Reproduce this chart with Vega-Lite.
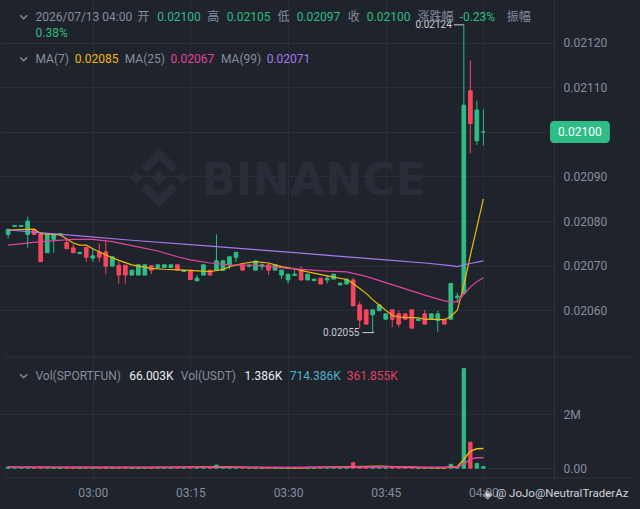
{
  "$schema": "https://vega.github.io/schema/vega-lite/v6.json",
  "background": "#1f232c",
  "padding": 0,
  "autosize": {"type": "pad"},
  "spacing": 0,
  "config": {
    "view": {"stroke": null},
    "font": "Roboto, Noto Sans CJK SC, sans-serif",
    "axis": {"labelFont": "Roboto", "labelFontSize": 12, "labelColor": "#848e9c", "title": null, "labelFlush": false, "labelOverlap": false}
  },
  "datasets": {
    "k": [
      {"t":"2026-07-13T02:47:00Z","o":0.020770,"h":0.020782,"l":0.020761,"c":0.0207815,"v":50000},
      {"t":"2026-07-13T02:48:00Z","o":0.020788,"h":0.020790,"l":0.020788,"c":0.020790,"v":30000},
      {"t":"2026-07-13T02:49:00Z","o":0.020788,"h":0.020790,"l":0.020788,"c":0.020790,"v":30000},
      {"t":"2026-07-13T02:50:00Z","o":0.020770,"h":0.020810,"l":0.020740,"c":0.020800,"v":40000},
      {"t":"2026-07-13T02:51:00Z","o":0.020780,"h":0.020780,"l":0.020770,"c":0.020770,"v":20000},
      {"t":"2026-07-13T02:52:00Z","o":0.020771,"h":0.020771,"l":0.020709,"c":0.020709,"v":40000},
      {"t":"2026-07-13T02:53:00Z","o":0.020729,"h":0.020771,"l":0.020729,"c":0.020771,"v":30000},
      {"t":"2026-07-13T02:54:00Z","o":0.020759,"h":0.020770,"l":0.020729,"c":0.020770,"v":30000},
      {"t":"2026-07-13T02:55:00Z","o":0.020769,"h":0.020773,"l":0.020769,"c":0.020772,"v":20000},
      {"t":"2026-07-13T02:56:00Z","o":0.020752,"h":0.020762,"l":0.020738,"c":0.020738,"v":30000},
      {"t":"2026-07-13T02:57:00Z","o":0.020740,"h":0.020748,"l":0.020729,"c":0.020729,"v":30000},
      {"t":"2026-07-13T02:58:00Z","o":0.020727,"h":0.020730,"l":0.020727,"c":0.020730,"v":20000},
      {"t":"2026-07-13T02:59:00Z","o":0.020741,"h":0.020741,"l":0.020709,"c":0.020719,"v":30000},
      {"t":"2026-07-13T03:00:00Z","o":0.020717,"h":0.020739,"l":0.020709,"c":0.020722,"v":30000},
      {"t":"2026-07-13T03:01:00Z","o":0.020731,"h":0.020750,"l":0.020709,"c":0.020719,"v":30000},
      {"t":"2026-07-13T03:02:00Z","o":0.020731,"h":0.020758,"l":0.020681,"c":0.020699,"v":40000},
      {"t":"2026-07-13T03:03:00Z","o":0.020699,"h":0.020720,"l":0.020699,"c":0.020720,"v":30000},
      {"t":"2026-07-13T03:04:00Z","o":0.020701,"h":0.020709,"l":0.020660,"c":0.020679,"v":40000},
      {"t":"2026-07-13T03:05:00Z","o":0.020701,"h":0.020701,"l":0.020660,"c":0.020679,"v":40000},
      {"t":"2026-07-13T03:06:00Z","o":0.020679,"h":0.020690,"l":0.020679,"c":0.020690,"v":20000},
      {"t":"2026-07-13T03:07:00Z","o":0.020679,"h":0.020702,"l":0.020679,"c":0.020702,"v":30000},
      {"t":"2026-07-13T03:08:00Z","o":0.020679,"h":0.020702,"l":0.020679,"c":0.020702,"v":30000},
      {"t":"2026-07-13T03:09:00Z","o":0.020700,"h":0.020700,"l":0.020681,"c":0.020690,"v":20000},
      {"t":"2026-07-13T03:10:00Z","o":0.020696,"h":0.020702,"l":0.020696,"c":0.020702,"v":20000},
      {"t":"2026-07-13T03:11:00Z","o":0.020696,"h":0.020702,"l":0.020696,"c":0.020702,"v":20000},
      {"t":"2026-07-13T03:12:00Z","o":0.020696,"h":0.020702,"l":0.020696,"c":0.020702,"v":20000},
      {"t":"2026-07-13T03:13:00Z","o":0.020702,"h":0.020702,"l":0.020690,"c":0.020690,"v":20000},
      {"t":"2026-07-13T03:14:00Z","o":0.020687,"h":0.020690,"l":0.020687,"c":0.020690,"v":20000},
      {"t":"2026-07-13T03:15:00Z","o":0.020690,"h":0.020690,"l":0.020669,"c":0.020669,"v":30000},
      {"t":"2026-07-13T03:16:00Z","o":0.020666,"h":0.020679,"l":0.020666,"c":0.020672,"v":20000},
      {"t":"2026-07-13T03:17:00Z","o":0.020679,"h":0.020702,"l":0.020679,"c":0.020702,"v":30000},
      {"t":"2026-07-13T03:18:00Z","o":0.020690,"h":0.020690,"l":0.020679,"c":0.020679,"v":20000},
      {"t":"2026-07-13T03:19:00Z","o":0.020690,"h":0.020770,"l":0.020690,"c":0.020711,"v":120000},
      {"t":"2026-07-13T03:20:00Z","o":0.020690,"h":0.020711,"l":0.020688,"c":0.020711,"v":30000},
      {"t":"2026-07-13T03:21:00Z","o":0.020702,"h":0.020720,"l":0.020692,"c":0.020720,"v":30000},
      {"t":"2026-07-13T03:22:00Z","o":0.020719,"h":0.020730,"l":0.020709,"c":0.020730,"v":30000},
      {"t":"2026-07-13T03:23:00Z","o":0.020702,"h":0.020702,"l":0.020690,"c":0.020690,"v":20000},
      {"t":"2026-07-13T03:24:00Z","o":0.020699,"h":0.020704,"l":0.020696,"c":0.020701,"v":20000},
      {"t":"2026-07-13T03:25:00Z","o":0.020690,"h":0.020711,"l":0.020690,"c":0.0207105,"v":30000},
      {"t":"2026-07-13T03:26:00Z","o":0.020698,"h":0.020705,"l":0.020690,"c":0.020702,"v":20000},
      {"t":"2026-07-13T03:27:00Z","o":0.020702,"h":0.020702,"l":0.020679,"c":0.020690,"v":20000},
      {"t":"2026-07-13T03:28:00Z","o":0.020690,"h":0.020702,"l":0.020690,"c":0.020702,"v":20000},
      {"t":"2026-07-13T03:29:00Z","o":0.020679,"h":0.020690,"l":0.020670,"c":0.020690,"v":20000},
      {"t":"2026-07-13T03:30:00Z","o":0.020668,"h":0.020681,"l":0.020660,"c":0.020681,"v":20000},
      {"t":"2026-07-13T03:31:00Z","o":0.020678,"h":0.020690,"l":0.020678,"c":0.020681,"v":20000},
      {"t":"2026-07-13T03:32:00Z","o":0.020690,"h":0.020699,"l":0.020668,"c":0.020668,"v":30000},
      {"t":"2026-07-13T03:33:00Z","o":0.020668,"h":0.020681,"l":0.020668,"c":0.020681,"v":20000},
      {"t":"2026-07-13T03:34:00Z","o":0.0206665,"h":0.020670,"l":0.0206665,"c":0.020670,"v":20000},
      {"t":"2026-07-13T03:35:00Z","o":0.020672,"h":0.020672,"l":0.020659,"c":0.020659,"v":20000},
      {"t":"2026-07-13T03:36:00Z","o":0.020668,"h":0.020679,"l":0.020660,"c":0.020672,"v":20000},
      {"t":"2026-07-13T03:37:00Z","o":0.020670,"h":0.020681,"l":0.020670,"c":0.020681,"v":20000},
      {"t":"2026-07-13T03:38:00Z","o":0.020657,"h":0.020661,"l":0.020657,"c":0.020661,"v":20000},
      {"t":"2026-07-13T03:39:00Z","o":0.020659,"h":0.020670,"l":0.020659,"c":0.020670,"v":20000},
      {"t":"2026-07-13T03:40:00Z","o":0.020668,"h":0.020673,"l":0.020610,"c":0.020610,"v":210000},
      {"t":"2026-07-13T03:41:00Z","o":0.020612,"h":0.020619,"l":0.020560,"c":0.020578,"v":60000},
      {"t":"2026-07-13T03:42:00Z","o":0.020601,"h":0.020601,"l":0.020569,"c":0.020569,"v":40000},
      {"t":"2026-07-13T03:43:00Z","o":0.020590,"h":0.020601,"l":0.020550,"c":0.020601,"v":40000},
      {"t":"2026-07-13T03:44:00Z","o":0.020599,"h":0.020612,"l":0.020599,"c":0.020612,"v":30000},
      {"t":"2026-07-13T03:45:00Z","o":0.020580,"h":0.020592,"l":0.020580,"c":0.020592,"v":20000},
      {"t":"2026-07-13T03:46:00Z","o":0.020601,"h":0.020601,"l":0.020562,"c":0.020580,"v":30000},
      {"t":"2026-07-13T03:47:00Z","o":0.020592,"h":0.020599,"l":0.020562,"c":0.020569,"v":30000},
      {"t":"2026-07-13T03:48:00Z","o":0.020592,"h":0.020592,"l":0.020580,"c":0.020580,"v":20000},
      {"t":"2026-07-13T03:49:00Z","o":0.020601,"h":0.020601,"l":0.020560,"c":0.020560,"v":30000},
      {"t":"2026-07-13T03:50:00Z","o":0.020577,"h":0.020580,"l":0.020577,"c":0.020580,"v":20000},
      {"t":"2026-07-13T03:51:00Z","o":0.020592,"h":0.020601,"l":0.020569,"c":0.020569,"v":30000},
      {"t":"2026-07-13T03:52:00Z","o":0.020580,"h":0.020592,"l":0.020580,"c":0.020592,"v":20000},
      {"t":"2026-07-13T03:53:00Z","o":0.020577,"h":0.020599,"l":0.020552,"c":0.020592,"v":30000},
      {"t":"2026-07-13T03:54:00Z","o":0.020580,"h":0.020580,"l":0.020569,"c":0.020569,"v":20000},
      {"t":"2026-07-13T03:55:00Z","o":0.020580,"h":0.020660,"l":0.020580,"c":0.020660,"v":150000},
      {"t":"2026-07-13T03:56:00Z","o":0.020629,"h":0.020639,"l":0.020617,"c":0.020632,"v":30000},
      {"t":"2026-07-13T03:57:00Z","o":0.020638,"h":0.021240,"l":0.020635,"c":0.021060,"v":3700000},
      {"t":"2026-07-13T03:58:00Z","o":0.021092,"h":0.021160,"l":0.020952,"c":0.021019,"v":970000},
      {"t":"2026-07-13T03:59:00Z","o":0.020980,"h":0.021070,"l":0.020971,"c":0.021049,"v":185000},
      {"t":"2026-07-13T04:00:00Z","o":0.021000,"h":0.021050,"l":0.020970,"c":0.021000,"v":66003}
    ],
    "ma": [
      {"t":"2026-07-13T02:47:00Z","k":"MA7","v":0.020780},
      {"t":"2026-07-13T02:51:00Z","k":"MA7","v":0.020782},
      {"t":"2026-07-13T02:52:00Z","k":"MA7","v":0.020772},
      {"t":"2026-07-13T02:55:00Z","k":"MA7","v":0.020769},
      {"t":"2026-07-13T02:56:00Z","k":"MA7","v":0.020760},
      {"t":"2026-07-13T02:57:00Z","k":"MA7","v":0.020751},
      {"t":"2026-07-13T02:58:00Z","k":"MA7","v":0.020746},
      {"t":"2026-07-13T02:59:00Z","k":"MA7","v":0.020746},
      {"t":"2026-07-13T03:00:00Z","k":"MA7","v":0.020738},
      {"t":"2026-07-13T03:02:00Z","k":"MA7","v":0.020724},
      {"t":"2026-07-13T03:04:00Z","k":"MA7","v":0.020712},
      {"t":"2026-07-13T03:06:00Z","k":"MA7","v":0.020702},
      {"t":"2026-07-13T03:07:00Z","k":"MA7","v":0.020699},
      {"t":"2026-07-13T03:09:00Z","k":"MA7","v":0.020694},
      {"t":"2026-07-13T03:11:00Z","k":"MA7","v":0.020692},
      {"t":"2026-07-13T03:14:00Z","k":"MA7","v":0.020690},
      {"t":"2026-07-13T03:17:00Z","k":"MA7","v":0.020688},
      {"t":"2026-07-13T03:18:00Z","k":"MA7","v":0.020687},
      {"t":"2026-07-13T03:20:00Z","k":"MA7","v":0.020691},
      {"t":"2026-07-13T03:21:00Z","k":"MA7","v":0.020698},
      {"t":"2026-07-13T03:23:00Z","k":"MA7","v":0.020705},
      {"t":"2026-07-13T03:25:00Z","k":"MA7","v":0.020709},
      {"t":"2026-07-13T03:27:00Z","k":"MA7","v":0.020706},
      {"t":"2026-07-13T03:28:00Z","k":"MA7","v":0.020702},
      {"t":"2026-07-13T03:29:00Z","k":"MA7","v":0.020698},
      {"t":"2026-07-13T03:31:00Z","k":"MA7","v":0.020693},
      {"t":"2026-07-13T03:33:00Z","k":"MA7","v":0.020686},
      {"t":"2026-07-13T03:36:00Z","k":"MA7","v":0.020677},
      {"t":"2026-07-13T03:39:00Z","k":"MA7","v":0.020669},
      {"t":"2026-07-13T03:40:00Z","k":"MA7","v":0.020660},
      {"t":"2026-07-13T03:41:00Z","k":"MA7","v":0.020649},
      {"t":"2026-07-13T03:42:00Z","k":"MA7","v":0.020638},
      {"t":"2026-07-13T03:43:00Z","k":"MA7","v":0.020624},
      {"t":"2026-07-13T03:44:00Z","k":"MA7","v":0.020612},
      {"t":"2026-07-13T03:45:00Z","k":"MA7","v":0.020600},
      {"t":"2026-07-13T03:46:00Z","k":"MA7","v":0.020589},
      {"t":"2026-07-13T03:47:00Z","k":"MA7","v":0.020585},
      {"t":"2026-07-13T03:48:00Z","k":"MA7","v":0.020584},
      {"t":"2026-07-13T03:50:00Z","k":"MA7","v":0.020583},
      {"t":"2026-07-13T03:51:00Z","k":"MA7","v":0.020580},
      {"t":"2026-07-13T03:54:00Z","k":"MA7","v":0.020579},
      {"t":"2026-07-13T03:55:00Z","k":"MA7","v":0.020586},
      {"t":"2026-07-13T03:56:00Z","k":"MA7","v":0.020600},
      {"t":"2026-07-13T03:57:00Z","k":"MA7","v":0.020656},
      {"t":"2026-07-13T03:58:00Z","k":"MA7","v":0.020723},
      {"t":"2026-07-13T03:59:00Z","k":"MA7","v":0.020786},
      {"t":"2026-07-13T04:00:00Z","k":"MA7","v":0.020850},
      {"t":"2026-07-13T02:47:00Z","k":"MA25","v":0.020746},
      {"t":"2026-07-13T02:52:00Z","k":"MA25","v":0.020754},
      {"t":"2026-07-13T02:57:00Z","k":"MA25","v":0.020759},
      {"t":"2026-07-13T03:00:00Z","k":"MA25","v":0.020759},
      {"t":"2026-07-13T03:03:00Z","k":"MA25","v":0.020754},
      {"t":"2026-07-13T03:06:00Z","k":"MA25","v":0.020745},
      {"t":"2026-07-13T03:10:00Z","k":"MA25","v":0.020733},
      {"t":"2026-07-13T03:13:00Z","k":"MA25","v":0.020720},
      {"t":"2026-07-13T03:15:00Z","k":"MA25","v":0.020713},
      {"t":"2026-07-13T03:18:00Z","k":"MA25","v":0.020706},
      {"t":"2026-07-13T03:21:00Z","k":"MA25","v":0.020702},
      {"t":"2026-07-13T03:25:00Z","k":"MA25","v":0.020701},
      {"t":"2026-07-13T03:30:00Z","k":"MA25","v":0.020694},
      {"t":"2026-07-13T03:36:00Z","k":"MA25","v":0.020688},
      {"t":"2026-07-13T03:39:00Z","k":"MA25","v":0.020686},
      {"t":"2026-07-13T03:42:00Z","k":"MA25","v":0.020676},
      {"t":"2026-07-13T03:45:00Z","k":"MA25","v":0.020662},
      {"t":"2026-07-13T03:48:00Z","k":"MA25","v":0.020648},
      {"t":"2026-07-13T03:51:00Z","k":"MA25","v":0.020634},
      {"t":"2026-07-13T03:54:00Z","k":"MA25","v":0.020621},
      {"t":"2026-07-13T03:55:00Z","k":"MA25","v":0.020619},
      {"t":"2026-07-13T03:56:00Z","k":"MA25","v":0.020619},
      {"t":"2026-07-13T03:57:00Z","k":"MA25","v":0.020636},
      {"t":"2026-07-13T03:58:00Z","k":"MA25","v":0.020652},
      {"t":"2026-07-13T03:59:00Z","k":"MA25","v":0.020664},
      {"t":"2026-07-13T04:00:00Z","k":"MA25","v":0.020673},
      {"t":"2026-07-13T02:47:00Z","k":"MA99","v":0.020780},
      {"t":"2026-07-13T02:57:00Z","k":"MA99","v":0.020768},
      {"t":"2026-07-13T03:06:00Z","k":"MA99","v":0.020757},
      {"t":"2026-07-13T03:17:00Z","k":"MA99","v":0.020745},
      {"t":"2026-07-13T03:25:00Z","k":"MA99","v":0.020736},
      {"t":"2026-07-13T03:32:00Z","k":"MA99","v":0.020728},
      {"t":"2026-07-13T03:39:00Z","k":"MA99","v":0.020720},
      {"t":"2026-07-13T03:45:00Z","k":"MA99","v":0.020713},
      {"t":"2026-07-13T03:51:00Z","k":"MA99","v":0.020706},
      {"t":"2026-07-13T03:55:00Z","k":"MA99","v":0.020700},
      {"t":"2026-07-13T03:56:00Z","k":"MA99","v":0.020698},
      {"t":"2026-07-13T03:57:00Z","k":"MA99","v":0.020702},
      {"t":"2026-07-13T03:58:00Z","k":"MA99","v":0.020705},
      {"t":"2026-07-13T03:59:00Z","k":"MA99","v":0.020708},
      {"t":"2026-07-13T04:00:00Z","k":"MA99","v":0.020711}
    ],
    "vma": [
      {"t":"2026-07-13T02:47:00Z","k":"MA5","v":35000},
      {"t":"2026-07-13T02:57:00Z","k":"MA5","v":30000},
      {"t":"2026-07-13T03:07:00Z","k":"MA5","v":30000},
      {"t":"2026-07-13T03:19:00Z","k":"MA5","v":50000},
      {"t":"2026-07-13T03:23:00Z","k":"MA5","v":35000},
      {"t":"2026-07-13T03:32:00Z","k":"MA5","v":25000},
      {"t":"2026-07-13T03:40:00Z","k":"MA5","v":60000},
      {"t":"2026-07-13T03:44:00Z","k":"MA5","v":75000},
      {"t":"2026-07-13T03:50:00Z","k":"MA5","v":30000},
      {"t":"2026-07-13T03:54:00Z","k":"MA5","v":25000},
      {"t":"2026-07-13T03:55:00Z","k":"MA5","v":50000},
      {"t":"2026-07-13T03:56:00Z","k":"MA5","v":55000},
      {"t":"2026-07-13T03:57:00Z","k":"MA5","v":330000},
      {"t":"2026-07-13T03:58:00Z","k":"MA5","v":640000},
      {"t":"2026-07-13T03:59:00Z","k":"MA5","v":720000},
      {"t":"2026-07-13T04:00:00Z","k":"MA5","v":730000},
      {"t":"2026-07-13T02:47:00Z","k":"MA10","v":40000},
      {"t":"2026-07-13T02:59:00Z","k":"MA10","v":35000},
      {"t":"2026-07-13T03:12:00Z","k":"MA10","v":30000},
      {"t":"2026-07-13T03:20:00Z","k":"MA10","v":45000},
      {"t":"2026-07-13T03:27:00Z","k":"MA10","v":30000},
      {"t":"2026-07-13T03:40:00Z","k":"MA10","v":45000},
      {"t":"2026-07-13T03:45:00Z","k":"MA10","v":60000},
      {"t":"2026-07-13T03:52:00Z","k":"MA10","v":35000},
      {"t":"2026-07-13T03:55:00Z","k":"MA10","v":40000},
      {"t":"2026-07-13T03:56:00Z","k":"MA10","v":45000},
      {"t":"2026-07-13T03:57:00Z","k":"MA10","v":160000},
      {"t":"2026-07-13T03:58:00Z","k":"MA10","v":340000},
      {"t":"2026-07-13T03:59:00Z","k":"MA10","v":390000},
      {"t":"2026-07-13T04:00:00Z","k":"MA10","v":390000}
    ]
  },
  "vconcat": [
    {
      "width": 554,
      "height": 357,
      "layer": [
        {
          "data": {"values": [{}]},
          "mark": {"type": "point", "shape": "M0,-1L0.62,-0.38L0.42,-0.18L0,-0.6L-0.42,-0.18L-0.62,-0.38Z M0,1L0.62,0.38L0.42,0.18L0,0.6L-0.42,0.18L-0.62,0.38Z M0,-0.25L0.25,0L0,0.25L-0.25,0Z M-0.78,-0.2L-0.58,0L-0.78,0.2L-0.98,0Z M0.78,-0.2L0.98,0L0.78,0.2L0.58,0Z", "filled": true, "size": 3481, "color": "#282d37", "opacity": 1, "strokeWidth": 0},
          "encoding": {
            "x": {"datum": {"year":2026,"month":7,"date":13,"hours":3,"minutes":10,"seconds":12,"utc":true}, "type": "temporal",
              "scale": {"type": "utc", "domain": [{"year":2026,"month":7,"date":13,"hours":2,"minutes":46,"seconds":31,"utc":true}, {"year":2026,"month":7,"date":13,"hours":4,"minutes":10,"seconds":5,"utc":true}]},
              "axis": {"values": [
                {"year":2026,"month":7,"date":13,"hours":3,"minutes":0,"utc":true},
                {"year":2026,"month":7,"date":13,"hours":3,"minutes":15,"utc":true},
                {"year":2026,"month":7,"date":13,"hours":3,"minutes":30,"utc":true},
                {"year":2026,"month":7,"date":13,"hours":3,"minutes":45,"utc":true},
                {"year":2026,"month":7,"date":13,"hours":4,"minutes":0,"utc":true}],
                "labels": false, "ticks": false, "domain": false, "grid": true, "gridColor": "#2a2e38", "gridWidth": 1, "minExtent": 0, "maxExtent": 0, "labelFlush": false}},
            "y": {"datum": 0.0208966, "type": "quantitative",
              "scale": {"domain": [0.0204953, 0.0212957], "nice": false, "zero": false},
              "axis": {"orient": "right", "values": [0.0206, 0.0207, 0.0208, 0.0209, 0.0210, 0.0211, 0.0212], "format": ".5f", "labelExpr": "abs(datum.value - 0.021) < 0.000001 ? '' : datum.label", "ticks": false, "labelPadding": 9, "domain": true, "domainColor": "#30353f", "grid": true, "gridColor": "#2a2e38", "minExtent": 86, "maxExtent": 86}}
          }
        },
        {
          "data": {"values": [{}]},
          "mark": {"type": "text", "text": "BINANCE", "font": "DejaVu Sans", "fontWeight": "bold", "fontSize": 45, "align": "left", "baseline": "alphabetic", "color": "#282d37"},
          "encoding": {"x": {"datum": {"year":2026,"month":7,"date":13,"hours":3,"minutes":16,"seconds":41,"utc":true}}, "y": {"datum": 0.0208585}}
        },
        {
          "data": {"name": "k"},
          "mark": {"type": "rule", "strokeWidth": 1},
          "encoding": {
            "x": {"field": "t", "type": "temporal"},
            "y": {"field": "l", "type": "quantitative"},
            "y2": {"field": "h"},
            "color": {"condition": {"test": "datum.c >= datum.o", "value": "#2ebd85"}, "value": "#f6465d"}
          }
        },
        {
          "data": {"name": "k"},
          "mark": {"type": "bar", "width": 3.7, "strokeWidth": 1},
          "encoding": {
            "x": {"field": "t", "type": "temporal"},
            "y": {"field": "o", "type": "quantitative"},
            "y2": {"field": "c"},
            "fill": {"condition": {"test": "datum.c >= datum.o", "value": "#2ebd85"}, "value": "#f6465d"},
            "stroke": {"condition": {"test": "datum.c >= datum.o", "value": "#2ebd85"}, "value": "#f6465d"}
          }
        },
        {
          "data": {"name": "ma"},
          "mark": {"type": "line", "strokeWidth": 1.2},
          "encoding": {
            "x": {"field": "t", "type": "temporal"},
            "y": {"field": "v", "type": "quantitative"},
            "color": {"field": "k", "type": "nominal", "scale": {"domain": ["MA7", "MA25", "MA99"], "range": ["#f0b90b", "#e0449f", "#a878ee"]}, "legend": null}
          }
        },
        {
          "data": {"values": [{}]},
          "mark": {"type": "text", "text": "0.02055", "fontSize": 10, "align": "right", "baseline": "middle", "color": "#c8ccd2"},
          "encoding": {"x": {"datum": {"year":2026,"month":7,"date":13,"hours":3,"minutes":40,"seconds":58,"utc":true}}, "y": {"datum": 0.02055}}
        },
        {
          "data": {"values": [{}]},
          "mark": {"type": "rule", "strokeWidth": 1, "color": "#c8ccd2"},
          "encoding": {"x": {"datum": {"year":2026,"month":7,"date":13,"hours":3,"minutes":41,"seconds":25,"utc":true}}, "x2": {"datum": {"year":2026,"month":7,"date":13,"hours":3,"minutes":43,"seconds":14,"utc":true}}, "y": {"datum": 0.02055}}
        },
        {
          "data": {"values": [{}]},
          "mark": {"type": "text", "text": "0.02124", "fontSize": 10, "align": "right", "baseline": "middle", "color": "#c8ccd2"},
          "encoding": {"x": {"datum": {"year":2026,"month":7,"date":13,"hours":3,"minutes":55,"seconds":9,"utc":true}}, "y": {"datum": 0.02124}}
        },
        {
          "data": {"values": [{}]},
          "mark": {"type": "rule", "strokeWidth": 1, "color": "#c8ccd2"},
          "encoding": {"x": {"datum": {"year":2026,"month":7,"date":13,"hours":3,"minutes":55,"seconds":28,"utc":true}}, "x2": {"datum": {"year":2026,"month":7,"date":13,"hours":3,"minutes":57,"seconds":0,"utc":true}}, "y": {"datum": 0.02124}}
        },
        {
          "data": {"values": [{}]},
          "mark": {"type": "rect", "color": "#2ebd85", "cornerRadius": 4},
          "encoding": {"x": {"datum": {"year":2026,"month":7,"date":13,"hours":4,"minutes":10,"seconds":14,"utc":true}}, "x2": {"datum": {"year":2026,"month":7,"date":13,"hours":4,"minutes":19,"seconds":26,"utc":true}}, "y": {"datum": 0.0210244}, "y2": {"datum": 0.0209751}}
        },
        {
          "data": {"values": [{}]},
          "mark": {"type": "text", "text": "0.02100", "fontSize": 12, "align": "center", "baseline": "middle", "color": "#ffffff"},
          "encoding": {"x": {"datum": {"year":2026,"month":7,"date":13,"hours":4,"minutes":14,"seconds":50,"utc":true}}, "y": {"datum": 0.021}}
        },
        {
          "data": {"values": [{}]},
          "mark": {"type": "rule", "strokeWidth": 1, "color": "#30353f"},
          "encoding": {"x": {"datum": {"year":2026,"month":7,"date":13,"hours":2,"minutes":46,"seconds":36,"utc":true}}, "x2": {"datum": {"year":2026,"month":7,"date":13,"hours":4,"minutes":22,"seconds":55,"utc":true}}, "y": {"datum": 0.0204953}}
        },
        {
          "data": {"values": [{"y": 0.0212576}, {"y": 0.0211634}]},
          "mark": {"type": "point", "shape": "M-1,-0.5L0,0.5L1,-0.5", "filled": false, "size": 49, "color": "#848e9c", "opacity": 1, "strokeWidth": 1.3},
          "encoding": {"x": {"datum": {"year":2026,"month":7,"date":13,"hours":2,"minutes":49,"seconds":23,"utc":true}}, "y": {"field": "y", "type": "quantitative"}}
        },
        {"data": {"values": [{}]}, "mark": {"type": "text", "text": "2026/07/13 04:00", "fontSize": 12, "align": "left", "baseline": "middle", "color": "#848e9c"},
          "encoding": {"x": {"datum": {"year":2026,"month":7,"date":13,"hours":2,"minutes":51,"seconds":12,"utc":true}}, "y": {"datum": 0.0212576}}},
        {"data": {"values": [{}]}, "mark": {"type": "text", "text": "开", "fontSize": 12, "align": "left", "baseline": "middle", "color": "#848e9c"},
          "encoding": {"x": {"datum": {"year":2026,"month":7,"date":13,"hours":3,"minutes":6,"seconds":53,"utc":true}}, "y": {"datum": 0.0212576}}},
        {"data": {"values": [{}]}, "mark": {"type": "text", "text": "0.02100", "fontSize": 12, "align": "left", "baseline": "middle", "color": "#2ebd85"},
          "encoding": {"x": {"datum": {"year":2026,"month":7,"date":13,"hours":3,"minutes":9,"seconds":54,"utc":true}}, "y": {"datum": 0.0212576}}},
        {"data": {"values": [{}]}, "mark": {"type": "text", "text": "高", "fontSize": 12, "align": "left", "baseline": "middle", "color": "#848e9c"},
          "encoding": {"x": {"datum": {"year":2026,"month":7,"date":13,"hours":3,"minutes":17,"seconds":35,"utc":true}}, "y": {"datum": 0.0212576}}},
        {"data": {"values": [{}]}, "mark": {"type": "text", "text": "0.02105", "fontSize": 12, "align": "left", "baseline": "middle", "color": "#2ebd85"},
          "encoding": {"x": {"datum": {"year":2026,"month":7,"date":13,"hours":3,"minutes":20,"seconds":36,"utc":true}}, "y": {"datum": 0.0212576}}},
        {"data": {"values": [{}]}, "mark": {"type": "text", "text": "低", "fontSize": 12, "align": "left", "baseline": "middle", "color": "#848e9c"},
          "encoding": {"x": {"datum": {"year":2026,"month":7,"date":13,"hours":3,"minutes":28,"seconds":22,"utc":true}}, "y": {"datum": 0.0212576}}},
        {"data": {"values": [{}]}, "mark": {"type": "text", "text": "0.02097", "fontSize": 12, "align": "left", "baseline": "middle", "color": "#2ebd85"},
          "encoding": {"x": {"datum": {"year":2026,"month":7,"date":13,"hours":3,"minutes":31,"seconds":19,"utc":true}}, "y": {"datum": 0.0212576}}},
        {"data": {"values": [{}]}, "mark": {"type": "text", "text": "收", "fontSize": 12, "align": "left", "baseline": "middle", "color": "#848e9c"},
          "encoding": {"x": {"datum": {"year":2026,"month":7,"date":13,"hours":3,"minutes":39,"seconds":10,"utc":true}}, "y": {"datum": 0.0212576}}},
        {"data": {"values": [{}]}, "mark": {"type": "text", "text": "0.02100", "fontSize": 12, "align": "left", "baseline": "middle", "color": "#2ebd85"},
          "encoding": {"x": {"datum": {"year":2026,"month":7,"date":13,"hours":3,"minutes":42,"seconds":6,"utc":true}}, "y": {"datum": 0.0212576}}},
        {"data": {"values": [{}]}, "mark": {"type": "text", "text": "涨跌幅", "fontSize": 12, "align": "left", "baseline": "middle", "color": "#848e9c"},
          "encoding": {"x": {"datum": {"year":2026,"month":7,"date":13,"hours":3,"minutes":49,"seconds":52,"utc":true}}, "y": {"datum": 0.0212576}}},
        {"data": {"values": [{}]}, "mark": {"type": "text", "text": "-0.23%", "fontSize": 12, "align": "left", "baseline": "middle", "color": "#2ebd85"},
          "encoding": {"x": {"datum": {"year":2026,"month":7,"date":13,"hours":3,"minutes":56,"seconds":21,"utc":true}}, "y": {"datum": 0.0212576}}},
        {"data": {"values": [{}]}, "mark": {"type": "text", "text": "振幅", "fontSize": 12, "align": "left", "baseline": "middle", "color": "#848e9c"},
          "encoding": {"x": {"datum": {"year":2026,"month":7,"date":13,"hours":4,"minutes":3,"seconds":35,"utc":true}}, "y": {"datum": 0.0212576}}},
        {"data": {"values": [{}]}, "mark": {"type": "text", "text": "0.38%", "fontSize": 12, "align": "left", "baseline": "middle", "color": "#2ebd85"},
          "encoding": {"x": {"datum": {"year":2026,"month":7,"date":13,"hours":2,"minutes":51,"seconds":12,"utc":true}}, "y": {"datum": 0.0212217}}},
        {"data": {"values": [{}]}, "mark": {"type": "text", "text": "MA(7)", "fontSize": 12, "align": "left", "baseline": "middle", "color": "#848e9c"},
          "encoding": {"x": {"datum": {"year":2026,"month":7,"date":13,"hours":2,"minutes":51,"seconds":12,"utc":true}}, "y": {"datum": 0.0211634}}},
        {"data": {"values": [{}]}, "mark": {"type": "text", "text": "0.02085", "fontSize": 12, "align": "left", "baseline": "middle", "color": "#f0b90b"},
          "encoding": {"x": {"datum": {"year":2026,"month":7,"date":13,"hours":2,"minutes":57,"seconds":14,"utc":true}}, "y": {"datum": 0.0211634}}},
        {"data": {"values": [{}]}, "mark": {"type": "text", "text": "MA(25)", "fontSize": 12, "align": "left", "baseline": "middle", "color": "#848e9c"},
          "encoding": {"x": {"datum": {"year":2026,"month":7,"date":13,"hours":3,"minutes":4,"seconds":55,"utc":true}}, "y": {"datum": 0.0211634}}},
        {"data": {"values": [{}]}, "mark": {"type": "text", "text": "0.02067", "fontSize": 12, "align": "left", "baseline": "middle", "color": "#e0449f"},
          "encoding": {"x": {"datum": {"year":2026,"month":7,"date":13,"hours":3,"minutes":11,"seconds":57,"utc":true}}, "y": {"datum": 0.0211634}}},
        {"data": {"values": [{}]}, "mark": {"type": "text", "text": "MA(99)", "fontSize": 12, "align": "left", "baseline": "middle", "color": "#848e9c"},
          "encoding": {"x": {"datum": {"year":2026,"month":7,"date":13,"hours":3,"minutes":19,"seconds":42,"utc":true}}, "y": {"datum": 0.0211634}}},
        {"data": {"values": [{}]}, "mark": {"type": "text", "text": "0.02071", "fontSize": 12, "align": "left", "baseline": "middle", "color": "#a878ee"},
          "encoding": {"x": {"datum": {"year":2026,"month":7,"date":13,"hours":3,"minutes":26,"seconds":43,"utc":true}}, "y": {"datum": 0.0211634}}}
      ]
    },
    {
      "width": 554,
      "height": 120,
      "layer": [
        {
          "data": {"name": "k"},
          "mark": {"type": "bar", "width": 3.5, "strokeWidth": 0.8},
          "encoding": {
            "x": {"field": "t", "type": "temporal",
              "scale": {"type": "utc", "domain": [{"year":2026,"month":7,"date":13,"hours":2,"minutes":46,"seconds":31,"utc":true}, {"year":2026,"month":7,"date":13,"hours":4,"minutes":10,"seconds":5,"utc":true}]},
              "axis": {"values": [
                {"year":2026,"month":7,"date":13,"hours":3,"minutes":0,"utc":true},
                {"year":2026,"month":7,"date":13,"hours":3,"minutes":15,"utc":true},
                {"year":2026,"month":7,"date":13,"hours":3,"minutes":30,"utc":true},
                {"year":2026,"month":7,"date":13,"hours":3,"minutes":45,"utc":true},
                {"year":2026,"month":7,"date":13,"hours":4,"minutes":0,"utc":true}],
                "format": "%H:%M", "labelFlush": false, "labelAlign": "center", "ticks": false, "domain": false, "labelPadding": 9, "grid": true, "gridColor": "#2a2e38", "minExtent": 32, "maxExtent": 32}},
            "y": {"field": "v", "type": "quantitative",
              "scale": {"domain": [-359259, 4085185], "nice": false, "zero": false},
              "axis": {"orient": "right", "values": [0, 2000000], "labelExpr": "datum.value == 0 ? '0.00' : '2M'", "ticks": false, "labelPadding": 9, "domain": true, "domainColor": "#30353f", "grid": true, "gridColor": "#2a2e38", "minExtent": 86, "maxExtent": 86}},
            "fill": {"condition": {"test": "datum.c >= datum.o", "value": "#2ebd85"}, "value": "#f6465d"},
            "stroke": {"condition": {"test": "datum.c >= datum.o", "value": "#2ebd85"}, "value": "#f6465d"}
          }
        },
        {
          "data": {"name": "vma"},
          "mark": {"type": "line", "strokeWidth": 1.5},
          "encoding": {
            "x": {"field": "t", "type": "temporal"},
            "y": {"field": "v", "type": "quantitative"},
            "color": {"field": "k", "type": "nominal", "scale": {"domain": ["MA5", "MA10"], "range": ["#4db3cc", "#e0405f"]}, "legend": null}
          }
        },
        {
          "data": {"values": [{}]},
          "mark": {"type": "rule", "strokeWidth": 1, "color": "#30353f"},
          "encoding": {"x": {"datum": {"year":2026,"month":7,"date":13,"hours":2,"minutes":46,"seconds":36,"utc":true}}, "x2": {"datum": {"year":2026,"month":7,"date":13,"hours":4,"minutes":22,"seconds":55,"utc":true}}, "y": {"datum": -359259}}
        },
        {
          "data": {"values": [{}]},
          "mark": {"type": "point", "shape": "M-1,-0.5L0,0.5L1,-0.5", "filled": false, "size": 49, "color": "#848e9c", "opacity": 1, "strokeWidth": 1.3},
          "encoding": {"x": {"datum": {"year":2026,"month":7,"date":13,"hours":2,"minutes":49,"seconds":23,"utc":true}}, "y": {"datum": 3418519}}
        },
        {"data": {"values": [{}]}, "mark": {"type": "text", "text": "Vol(SPORTFUN)", "fontSize": 12, "align": "left", "baseline": "middle", "color": "#848e9c"},
          "encoding": {"x": {"datum": {"year":2026,"month":7,"date":13,"hours":2,"minutes":51,"seconds":12,"utc":true}}, "y": {"datum": 3418519}}},
        {"data": {"values": [{}]}, "mark": {"type": "text", "text": "66.003K", "fontSize": 12, "align": "left", "baseline": "middle", "color": "#eaecef"},
          "encoding": {"x": {"datum": {"year":2026,"month":7,"date":13,"hours":3,"minutes":5,"seconds":36,"utc":true}}, "y": {"datum": 3418519}}},
        {"data": {"values": [{}]}, "mark": {"type": "text", "text": "Vol(USDT)", "fontSize": 12, "align": "left", "baseline": "middle", "color": "#848e9c"},
          "encoding": {"x": {"datum": {"year":2026,"month":7,"date":13,"hours":3,"minutes":13,"seconds":31,"utc":true}}, "y": {"datum": 3418519}}},
        {"data": {"values": [{}]}, "mark": {"type": "text", "text": "1.386K", "fontSize": 12, "align": "left", "baseline": "middle", "color": "#eaecef"},
          "encoding": {"x": {"datum": {"year":2026,"month":7,"date":13,"hours":3,"minutes":23,"seconds":19,"utc":true}}, "y": {"datum": 3418519}}},
        {"data": {"values": [{}]}, "mark": {"type": "text", "text": "714.386K", "fontSize": 12, "align": "left", "baseline": "middle", "color": "#4db3cc"},
          "encoding": {"x": {"datum": {"year":2026,"month":7,"date":13,"hours":3,"minutes":30,"seconds":15,"utc":true}}, "y": {"datum": 3418519}}},
        {"data": {"values": [{}]}, "mark": {"type": "text", "text": "361.855K", "fontSize": 12, "align": "left", "baseline": "middle", "color": "#e0405f"},
          "encoding": {"x": {"datum": {"year":2026,"month":7,"date":13,"hours":3,"minutes":39,"seconds":0,"utc":true}}, "y": {"datum": 3418519}}},
        {"data": {"values": [{}]}, "mark": {"type": "text", "text": "◈", "font": "DejaVu Sans", "fontSize": 12, "align": "center", "baseline": "middle", "color": "#d0d4da"},
          "encoding": {"x": {"datum": {"year":2026,"month":7,"date":13,"hours":4,"minutes":0,"seconds":39,"utc":true}}, "y": {"datum": -951852}}},
        {"data": {"values": [{}]}, "mark": {"type": "text", "text": "@ JoJo@NeutralTraderAz", "fontSize": 11.5, "align": "left", "baseline": "middle", "color": "#d0d4da"},
          "encoding": {"x": {"datum": {"year":2026,"month":7,"date":13,"hours":4,"minutes":1,"seconds":56,"utc":true}}, "y": {"datum": -951852}}}
      ]
    }
  ]
}
